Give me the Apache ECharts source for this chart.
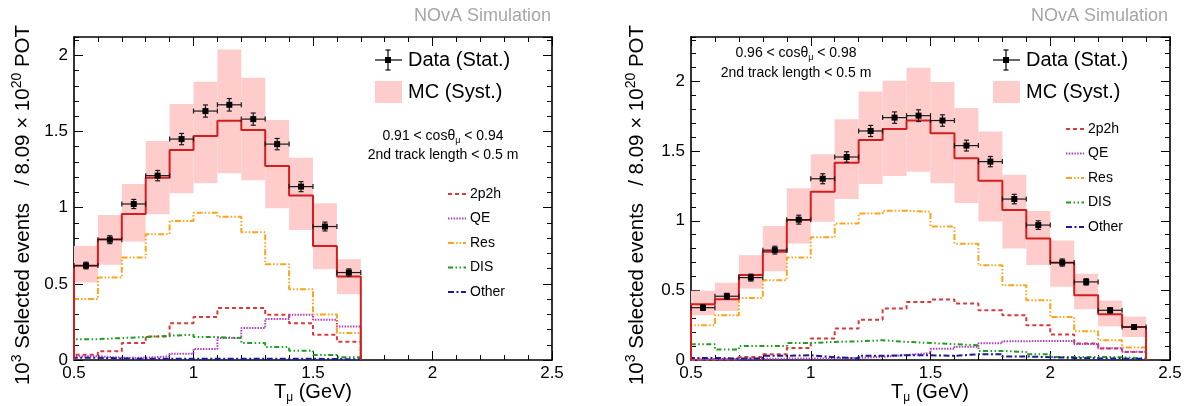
<!DOCTYPE html>
<html>
<head>
<meta charset="UTF-8">
<title>NOvA T_mu distributions</title>
<script src="https://cdn.jsdelivr.net/npm/echarts@6/dist/echarts.min.js"></script>
<style>
  body { margin: 0; background: #fff; }
  #container { width: 1186px; height: 406px; }
</style>
</head>
<body>
<div id="container"></div>
<script>
// ---- data (units: 10^3 events) ----
// bin edges in T_mu (GeV)
var leftEdges  = [0.5, 0.6, 0.7, 0.8, 0.9, 1.0, 1.1, 1.2, 1.3, 1.4, 1.5, 1.6, 1.7];
var rightEdges = [0.5, 0.6, 0.7, 0.8, 0.9, 1.0, 1.1, 1.2, 1.3, 1.4, 1.5, 1.6, 1.7, 1.8, 1.9, 2.0, 2.1, 2.2, 2.3, 2.4];

// left panel: 0.91 < cos < 0.94
var leftMC     = [0.618, 0.793, 0.959, 1.197, 1.378, 1.470, 1.570, 1.509, 1.273, 1.079, 0.749, 0.548];
var leftBandLo = [0.509, 0.625, 0.777, 0.957, 1.094, 1.160, 1.225, 1.180, 0.996, 0.854, 0.596, 0.432];
var leftBandHi = [0.749, 0.952, 1.155, 1.437, 1.680, 1.826, 2.038, 1.852, 1.575, 1.328, 1.029, 0.662];
var leftData   = [0.620, 0.790, 1.024, 1.210, 1.450, 1.634, 1.675, 1.581, 1.417, 1.138, 0.876, 0.574];
var leftErr    = [0.022, 0.026, 0.030, 0.034, 0.037, 0.040, 0.041, 0.040, 0.037, 0.033, 0.029, 0.024];
var left2p2h   = [0.035, 0.057, 0.111, 0.155, 0.242, 0.282, 0.341, 0.341, 0.297, 0.242, 0.166, 0.120];
var leftQE     = [0.024, 0.015, 0.015, 0.024, 0.041, 0.072, 0.144, 0.210, 0.269, 0.297, 0.264, 0.220];
var leftRes    = [0.400, 0.541, 0.672, 0.826, 0.913, 0.967, 0.941, 0.839, 0.629, 0.464, 0.299, 0.177];
var leftDIS    = [0.137, 0.144, 0.151, 0.159, 0.166, 0.151, 0.144, 0.111, 0.085, 0.061, 0.032, 0.018];
var leftOther  = [0.015, 0.010, 0.008, 0.008, 0.008, 0.008, 0.008, 0.008, 0.008, 0.008, 0.006, 0.005];

// right panel: 0.96 < cos < 0.98
var rightMC     = [0.401, 0.437, 0.610, 0.777, 1.005, 1.209, 1.417, 1.581, 1.660, 1.720, 1.629, 1.449, 1.288, 1.077, 0.873, 0.698, 0.465, 0.329, 0.237];
var rightBandLo = [0.322, 0.352, 0.513, 0.638, 0.837, 0.993, 1.156, 1.264, 1.322, 1.353, 1.270, 1.127, 0.995, 0.801, 0.683, 0.527, 0.364, 0.242, 0.165];
var rightBandHi = [0.498, 0.555, 0.753, 0.962, 1.233, 1.478, 1.730, 1.928, 2.005, 2.100, 1.996, 1.810, 1.642, 1.331, 1.071, 0.858, 0.620, 0.427, 0.312];
var rightData   = [0.376, 0.458, 0.592, 0.789, 1.008, 1.302, 1.458, 1.645, 1.741, 1.755, 1.720, 1.540, 1.425, 1.156, 0.969, 0.700, 0.561, 0.357, 0.237];
var rightErr    = [0.020, 0.021, 0.025, 0.028, 0.032, 0.036, 0.038, 0.040, 0.041, 0.042, 0.041, 0.039, 0.037, 0.034, 0.031, 0.026, 0.023, 0.019, 0.016];
var right2p2h   = [0.003, 0.003, 0.022, 0.041, 0.086, 0.154, 0.226, 0.290, 0.370, 0.417, 0.434, 0.406, 0.358, 0.322, 0.250, 0.183, 0.118, 0.082, 0.058];
var rightQE     = [0.008, 0.008, 0.008, 0.010, 0.010, 0.012, 0.015, 0.022, 0.036, 0.050, 0.080, 0.095, 0.120, 0.135, 0.137, 0.137, 0.115, 0.085, 0.060];
var rightRes    = [0.250, 0.322, 0.446, 0.573, 0.737, 0.882, 0.981, 1.053, 1.072, 1.065, 0.958, 0.835, 0.681, 0.537, 0.430, 0.309, 0.206, 0.142, 0.089];
var rightDIS    = [0.113, 0.075, 0.101, 0.101, 0.122, 0.130, 0.134, 0.142, 0.130, 0.122, 0.114, 0.106, 0.065, 0.058, 0.041, 0.022, 0.022, 0.020, 0.010];
var rightOther  = [0.015, 0.010, 0.010, 0.030, 0.034, 0.020, 0.012, 0.030, 0.034, 0.034, 0.030, 0.041, 0.041, 0.025, 0.020, 0.015, 0.012, 0.010, 0.008];

var xTicks = [0.5, 1, 1.5, 2, 2.5];

// ---- styles ----
var FONT = 'Liberation Sans, Arial, Helvetica, sans-serif';
var BAND = '#ffcccc';
var MCRED = '#d41e1e';
var compStyle = {
  '2p2h':  { color: '#d93a3a', dash: [4, 3] },
  'QE':    { color: '#b23dc6', dash: [1.5, 1.3] },
  'Res':   { color: '#ffa31a', dash: [6, 2, 1.5, 2, 1.5, 2] },
  'DIS':   { color: '#1f9e1f', dash: [5, 2.5, 1.5, 2.5, 1.5, 2.5] },
  'Other': { color: '#1a1a9e', dash: [6, 2.5, 2, 2.5] }
};
var compNames = ['2p2h', 'QE', 'Res', 'DIS', 'Other'];

// histogram outline: up from 0 at first edge, steps, down to 0 at last edge
function stepPoints(edges, vals) {
  var pts = [[edges[0], 0]];
  for (var i = 0; i < vals.length; i++) pts.push([edges[i], vals[i]]);
  pts.push([edges[edges.length - 1], vals[vals.length - 1]]);
  pts.push([edges[edges.length - 1], 0]);
  return pts;
}

function bandItems(edges, lo, hi) {
  var out = [];
  for (var i = 0; i < lo.length; i++) out.push([edges[i], edges[i + 1], lo[i], hi[i]]);
  return out;
}

function dataItems(edges, vals, err) {
  var out = [];
  for (var i = 0; i < vals.length; i++) out.push([edges[i], edges[i + 1], vals[i], err[i]]);
  return out;
}

function renderBand(params, api) {
  var p0 = api.coord([api.value(0), api.value(3)]);
  var p1 = api.coord([api.value(1), api.value(2)]);
  return {
    type: 'rect',
    shape: { x: p0[0], y: p0[1], width: p1[0] - p0[0], height: p1[1] - p0[1] },
    style: { fill: BAND }
  };
}

function renderData(params, api) {
  var x0 = api.value(0), x1 = api.value(1), y = api.value(2), e = api.value(3);
  var xm = (x0 + x1) / 2;
  var c = api.coord([xm, y]);
  var l = api.coord([x0, y]);
  var r = api.coord([x1, y]);
  var t = api.coord([xm, y + e]);
  var b = api.coord([xm, y - e]);
  var st = { stroke: '#1a1a1a', lineWidth: 1.2 };
  var cap = 2.5;
  return {
    type: 'group',
    children: [
      { type: 'line', shape: { x1: l[0], y1: c[1], x2: r[0], y2: c[1] }, style: st },
      { type: 'line', shape: { x1: l[0], y1: c[1] - cap, x2: l[0], y2: c[1] + cap }, style: st },
      { type: 'line', shape: { x1: r[0], y1: c[1] - cap, x2: r[0], y2: c[1] + cap }, style: st },
      { type: 'line', shape: { x1: c[0], y1: t[1], x2: c[0], y2: b[1] }, style: st },
      { type: 'line', shape: { x1: c[0] - cap, y1: t[1], x2: c[0] + cap, y2: t[1] }, style: st },
      { type: 'line', shape: { x1: c[0] - cap, y1: b[1], x2: c[0] + cap, y2: b[1] }, style: st },
      { type: 'rect', shape: { x: c[0] - 3, y: c[1] - 3, width: 6, height: 6 }, style: { fill: '#000' } }
    ]
  };
}

// ---- axes ----
var axisLine = { show: true, onZero: false, lineStyle: { color: '#000', width: 1.6 } };
function xAxes(g) {
  var base = {
    gridIndex: g, type: 'value', min: 0.5, max: 2.5, interval: 0.5,
    axisLine: axisLine,
    axisTick: { inside: true, length: 9, lineStyle: { color: '#000', width: 1 } },
    minorTick: { show: true, splitNumber: 5, length: 5, lineStyle: { color: '#000', width: 1 } },
    splitLine: { show: false }
  };
  var bottom = Object.assign({}, base, {
    position: 'bottom',
    axisLabel: {
      fontSize: 17, color: '#000', fontFamily: FONT, margin: 5,
      formatter: function (v) { return xTicks.indexOf(v) >= 0 ? String(v) : ''; }
    }
  });
  var top = Object.assign({}, base, { position: 'top', axisLabel: { show: false } });
  return [bottom, top];
}
function yAxes(g, ymax) {
  var lbl = { fontSize: 17, color: '#000', fontFamily: FONT, margin: 6, showMaxLabel: false };
  function ax(pos, interval, len, line, label) {
    return {
      gridIndex: g, type: 'value', min: 0, max: ymax, interval: interval, position: pos,
      axisLine: line ? axisLine : { show: false },
      axisTick: { inside: true, length: len, lineStyle: { color: '#000', width: 1 } },
      axisLabel: label ? lbl : { show: false },
      splitLine: { show: false }
    };
  }
  return [ax('left', 0.5, 9, true, true), ax('left', 0.1, 5, false, false),
          ax('right', 0.5, 9, true, false), ax('right', 0.1, 5, false, false)];
}

// ---- series ----
function panelSeries(xi, yi, edges, mc, lo, hi, data, err, comps) {
  var s = [];
  s.push({
    type: 'custom', xAxisIndex: xi, yAxisIndex: yi, z: 1, silent: true,
    renderItem: renderBand, data: bandItems(edges, lo, hi)
  });
  compNames.forEach(function (n) {
    var cs = compStyle[n];
    s.push({
      type: 'line', name: n, xAxisIndex: xi, yAxisIndex: yi, z: 2, silent: true,
      step: 'end', symbol: 'none', clip: false,
      lineStyle: { color: cs.color, width: 2, type: cs.dash, cap: 'butt' },
      itemStyle: { color: cs.color },
      data: stepPoints(edges, comps[n])
    });
  });
  s.push({
    type: 'line', name: 'MC', xAxisIndex: xi, yAxisIndex: yi, z: 3, silent: true,
    step: 'end', symbol: 'none', clip: false,
    lineStyle: { color: MCRED, width: 2 },
    data: stepPoints(edges, mc)
  });
  s.push({
    type: 'custom', xAxisIndex: xi, yAxisIndex: yi, z: 4, silent: true,
    renderItem: renderData, data: dataItems(edges, data, err)
  });
  return s;
}

var series = [].concat(
  panelSeries(0, 0, leftEdges, leftMC, leftBandLo, leftBandHi, leftData, leftErr,
    { '2p2h': left2p2h, 'QE': leftQE, 'Res': leftRes, 'DIS': leftDIS, 'Other': leftOther }),
  panelSeries(2, 4, rightEdges, rightMC, rightBandLo, rightBandHi, rightData, rightErr,
    { '2p2h': right2p2h, 'QE': rightQE, 'Res': rightRes, 'DIS': rightDIS, 'Other': rightOther })
);

// ---- legends and labels ----
var supRich = {
  sup: { fontSize: 14, lineHeight: 14, verticalAlign: 'top', fontFamily: FONT, fill: '#000' },
  sub: { fontSize: 12, lineHeight: 12, verticalAlign: 'bottom', fontFamily: FONT, fill: '#000' }
};
var subSmall = {
  sub: { fontSize: 9, lineHeight: 9, verticalAlign: 'bottom', fontFamily: FONT, fill: '#000' }
};

function txt(x, y, text, size, align, extra) {
  var st = {
    text: text, fontSize: size, fontFamily: FONT, fill: '#000',
    textAlign: align, textVerticalAlign: 'middle', align: align, verticalAlign: 'middle',
    lineHeight: size + 4
  };
  if (extra) Object.assign(st, extra);
  return { type: 'text', x: x, y: y, style: st, silent: true };
}

function panelGraphics(p) {
  var g = [];
  g.push(txt(p.simX, 16, 'NOvA Simulation', 18, 'right', { fill: '#a6a6a6' }));
  // y title
  var yt = txt(p.ytX, 205, '10{sup|3} Selected events   / 8.09 \u00d7 10{sup|20} POT', 20.5, 'center', { rich: supRich, lineHeight: 26 });
  yt.rotation = Math.PI / 2;
  g.push(yt);
  // x title
  g.push(txt(p.xtX, 392, 'T{sub|\u03bc} (GeV)', 20, 'center', { rich: supRich, lineHeight: 24 }));
  // data legend entry
  var dx = p.dataX, dy = 60, ls = { stroke: '#000', lineWidth: 1.2 };
  g.push({ type: 'line', silent: true, shape: { x1: dx - 13, y1: dy, x2: dx + 14, y2: dy }, style: ls });
  g.push({ type: 'line', silent: true, shape: { x1: dx, y1: dy - 10, x2: dx, y2: dy + 10 }, style: ls });
  g.push({ type: 'line', silent: true, shape: { x1: dx - 2.5, y1: dy - 10, x2: dx + 2.5, y2: dy - 10 }, style: ls });
  g.push({ type: 'line', silent: true, shape: { x1: dx - 2.5, y1: dy + 10, x2: dx + 2.5, y2: dy + 10 }, style: ls });
  g.push({ type: 'rect', silent: true, shape: { x: dx - 3, y: dy - 3, width: 6, height: 6 }, style: { fill: '#000' } });
  g.push(txt(p.legTextX, dy, 'Data (Stat.)', 20, 'left'));
  g.push({ type: 'rect', silent: true, shape: { x: p.boxX, y: 81, width: 27, height: 22 }, style: { fill: BAND } });
  g.push(txt(p.legTextX, 92, 'MC (Syst.)', 20, 'left'));
  // selection text
  g.push(txt(p.selX, p.selY[0], '0.' + p.cut + ' < cos\u03b8{sub|\u03bc} < 0.' + p.cut2, 14, 'center', { rich: subSmall, lineHeight: 18 }));
  g.push(txt(p.selX, p.selY[1], '2nd track length < 0.5 m', 14, 'center'));
  // component legend
  compNames.forEach(function (n, i) {
    var y = p.compY0 + i * 24.5;
    g.push({ type: 'line', silent: true, shape: { x1: p.compX, y1: y, x2: p.compX + 18, y2: y },
      style: { stroke: compStyle[n].color, lineWidth: 2, lineDash: compStyle[n].dash } });
    g.push(txt(p.compX + 22, y, n, 14, 'left'));
  });
  return g;
}

var graphic = [].concat(
  panelGraphics({ simX: 551, ytX: 23, xtX: 313, dataX: 388, legTextX: 408, boxX: 375,
    selX: 443, selY: [136, 155], cut: '91', cut2: '94', compX: 448, compY0: 194 }),
  panelGraphics({ simX: 1168, ytX: 637, xtX: 930, dataX: 1006, legTextX: 1026, boxX: 993,
    selX: 796, selY: [53, 73], cut: '96', cut2: '98', compX: 1066, compY0: 129 })
);

var chart = echarts.init(document.getElementById('container'));
var option = {
  backgroundColor: '#fff',
  animation: false,
  grid: [
    { left: 74, top: 37, width: 478, height: 323, outerBoundsMode: 'none', containLabel: false },
    { left: 691, top: 37, width: 479, height: 323, outerBoundsMode: 'none', containLabel: false }
  ],
  xAxis: [].concat(xAxes(0), xAxes(1)),
  yAxis: [].concat(yAxes(0, 2.12), yAxes(1, 2.32)),
  series: series,
  graphic: graphic
};
chart.setOption(option);
</script>
</body>
</html>
